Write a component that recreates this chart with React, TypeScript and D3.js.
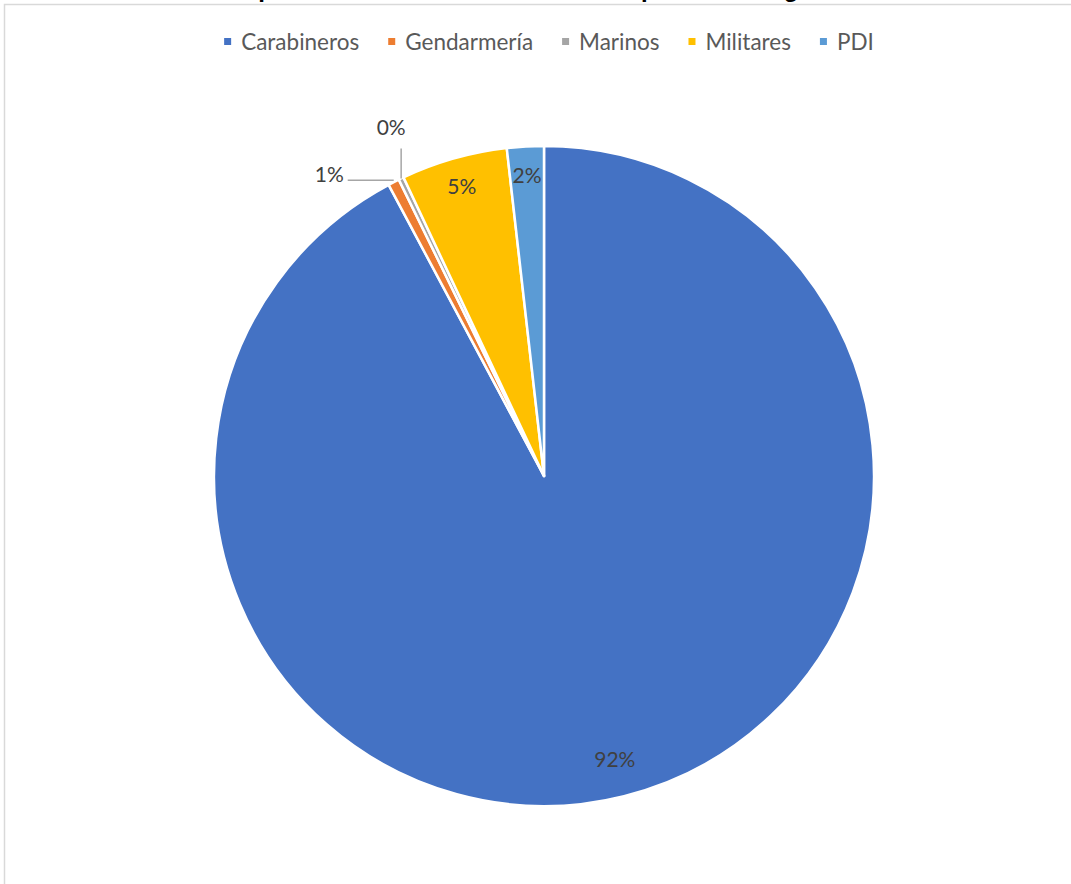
import React, { useEffect, useRef } from "react";
import * as d3 from "d3";

const categories = ["Carabineros", "Gendarmería", "Marinos", "Militares", "PDI"];
const values = [92.2, 0.55, 0.25, 5.2, 1.8];
const colors = ["#4472C4", "#ED7D31", "#A5A5A5", "#FFC000", "#5B9BD5"];
const titleText = "Denuncias presentadas contra instituciones policiales según el INDH";

const W = 1071;
const H = 884;

export default function App() {
  const ref = useRef<SVGSVGElement | null>(null);

  useEffect(() => {
    document.body.style.margin = "0";
    const svg = d3.select(ref.current);
    svg.selectAll("*").remove();

    // chart border (only top and left visible in the crop)
    svg.append("rect")
      .attr("x", 4.5).attr("y", 4.5)
      .attr("width", W + 20).attr("height", H + 20)
      .attr("fill", "#fff").attr("stroke", "#d9d9d9").attr("stroke-width", 1.5);

    // title (cut off at top)
    svg.append("text")
      .attr("x", 525).attr("y", -3)
      .attr("text-anchor", "middle")
      .attr("font-family", "'Liberation Sans', Arial, sans-serif")
      .attr("font-weight", "bold")
      .attr("font-size", 24)
      .attr("fill", "#000")
      .text(titleText);

    const font = "Lato, 'Open Sans', sans-serif";
    const legendSize = 22.5;
    const labelSize = 21;

    // legend
    const legend = svg.append("g");
    const items = legend.selectAll("g").data(categories).join("g");
    items.append("rect")
      .attr("width", 7).attr("height", 7)
      .attr("y", -4)
      .attr("fill", (_d, i) => colors[i]);
    const texts = items.append("text")
      .attr("x", 17).attr("y", 8)
      .attr("font-family", font)
      .attr("font-size", legendSize)
      .attr("fill", "#595959")
      .text((d) => d);
    const widths: number[] = [];
    texts.each(function () { widths.push((this as SVGTextElement).getComputedTextLength()); });
    const gap = 29;
    let xCur = 0;
    const offsets: number[] = [];
    widths.forEach((w) => { offsets.push(xCur); xCur += 17 + w + gap; });
    const total = xCur - gap;
    const legendLeft = 549 - total / 2;
    items.attr("transform", (_d, i) => `translate(${legendLeft + offsets[i]},42)`);

    // pie
    const cx = 544, cy = 476, R = 330;
    const pie = d3.pie<number>().sort(null).value((d) => d);
    const arcs = pie(values);
    const arc = d3.arc<d3.PieArcDatum<number>>().innerRadius(0).outerRadius(R);
    const g = svg.append("g").attr("transform", `translate(${cx},${cy})`);
    g.selectAll("path").data(arcs).join("path")
      .attr("d", arc as any)
      .attr("fill", (_d, i) => colors[i])
      .attr("stroke", "#fff")
      .attr("stroke-width", 2.5)
      .attr("stroke-linejoin", "round");

    const total100 = d3.sum(values);
    const pct = (v: number) => `${Math.round((v / total100) * 100)}%`;
    const mid = (a: d3.PieArcDatum<number>) => (a.startAngle + a.endAngle) / 2;
    const pt = (ang: number, r: number) => [r * Math.sin(ang), -r * Math.cos(ang)];

    arcs.forEach((a, i) => {
      const m = mid(a);
      const share = a.value / total100;
      if (share >= 0.015) {
        const rr = i === 0 ? 0.885 * R : 0.912 * R;
        const [x, y] = pt(m, rr);
        g.append("text")
          .attr("x", x).attr("y", y)
          .attr("dy", "0.35em")
          .attr("text-anchor", "middle")
          .attr("font-family", font)
          .attr("font-size", labelSize)
          .attr("fill", "#404040")
          .text(pct(a.value));
      } else {
        const [ex, ey] = pt(m, R);
        if (categories[i] === "Gendarmería") {
          g.append("line")
            .attr("x1", ex).attr("y1", ey - 2)
            .attr("x2", ex - 46).attr("y2", ey - 2)
            .attr("stroke", "#a6a6a6").attr("stroke-width", 1.5);
          g.append("text")
            .attr("x", ex - 50).attr("y", ey - 2)
            .attr("dy", "0.1em")
            .attr("text-anchor", "end")
            .attr("font-family", font)
            .attr("font-size", labelSize)
            .attr("fill", "#404040")
            .text(pct(a.value));
        } else {
          g.append("line")
            .attr("x1", ex).attr("y1", ey)
            .attr("x2", ex).attr("y2", ey - 30)
            .attr("stroke", "#a6a6a6").attr("stroke-width", 1.5);
          g.append("text")
            .attr("x", ex - 10).attr("y", ey - 44)
            .attr("text-anchor", "middle")
            .attr("font-family", font)
            .attr("font-size", labelSize)
            .attr("fill", "#404040")
            .text(pct(a.value));
        }
      }
    });
  }, []);

  return (
    <svg
      ref={ref}
      width={W}
      height={H}
      style={{ display: "block", position: "absolute", left: 0, top: 0 }}
    />
  );
}
